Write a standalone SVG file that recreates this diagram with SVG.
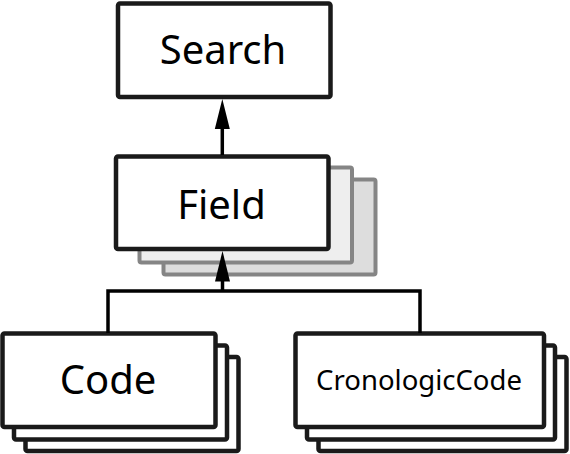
<svg xmlns="http://www.w3.org/2000/svg" width="570" height="454" viewBox="0 0 570 454">
<style>
.box{fill:#fff;stroke:#1a1a1a;stroke-width:4.5}
.sh{fill:#fff;stroke:#1a1a1a;stroke-width:4.5}
.g1{fill:#eeeeee;stroke:#858585;stroke-width:4}
.g2{fill:#dddddd;stroke:#858585;stroke-width:4}
.t{font-family:"Noto Sans","Open Sans",sans-serif;fill:#000;text-anchor:middle}
.ln{fill:none;stroke:#000;stroke-width:3.5}
.ah{fill:#000}
</style>
<g id="search">
<rect class="box" x="118" y="3.5" width="212.5" height="93.5" rx="2"/>
<text class="t" x="223" y="64" font-size="40">Search</text>
</g>
<g id="field">
<rect class="g2" x="163.5" y="179.5" width="212" height="95" rx="2"/>
<rect class="g1" x="139.5" y="167.5" width="212.5" height="95" rx="2"/>
<rect class="box" x="116" y="156.5" width="212.5" height="92.5" rx="2"/>
<text class="t" x="221.5" y="218.5" font-size="40">Field</text>
</g>
<g id="code">
<rect class="sh" x="25.5" y="357" width="213" height="94" rx="2"/>
<rect class="sh" x="14" y="345.5" width="213" height="94" rx="2"/>
<rect class="box" x="2.5" y="333.5" width="213" height="93.5" rx="2"/>
<text class="t" x="108" y="394" font-size="40">Code</text>
</g>
<g id="cronologiccode">
<rect class="sh" x="318.5" y="357" width="248" height="94" rx="2"/>
<rect class="sh" x="307" y="345.5" width="248" height="94" rx="2"/>
<rect class="box" x="295.5" y="333.5" width="248.5" height="93.5" rx="2"/>
<text class="t" x="419" y="390" font-size="27.5">CronologicCode</text>
</g>
<g id="connectors">
<line class="ln" x1="222.3" y1="125" x2="222.3" y2="155"/>
<polygon class="ah" points="222.3,99 214.8,129 229.8,129"/>
<polyline class="ln" points="108,333 108,291 420,291 420,333"/>
<line class="ln" x1="222.5" y1="291" x2="222.5" y2="278"/>
<polygon class="ah" points="222.5,251 215,281.5 230,281.5"/>
</g>
</svg>
